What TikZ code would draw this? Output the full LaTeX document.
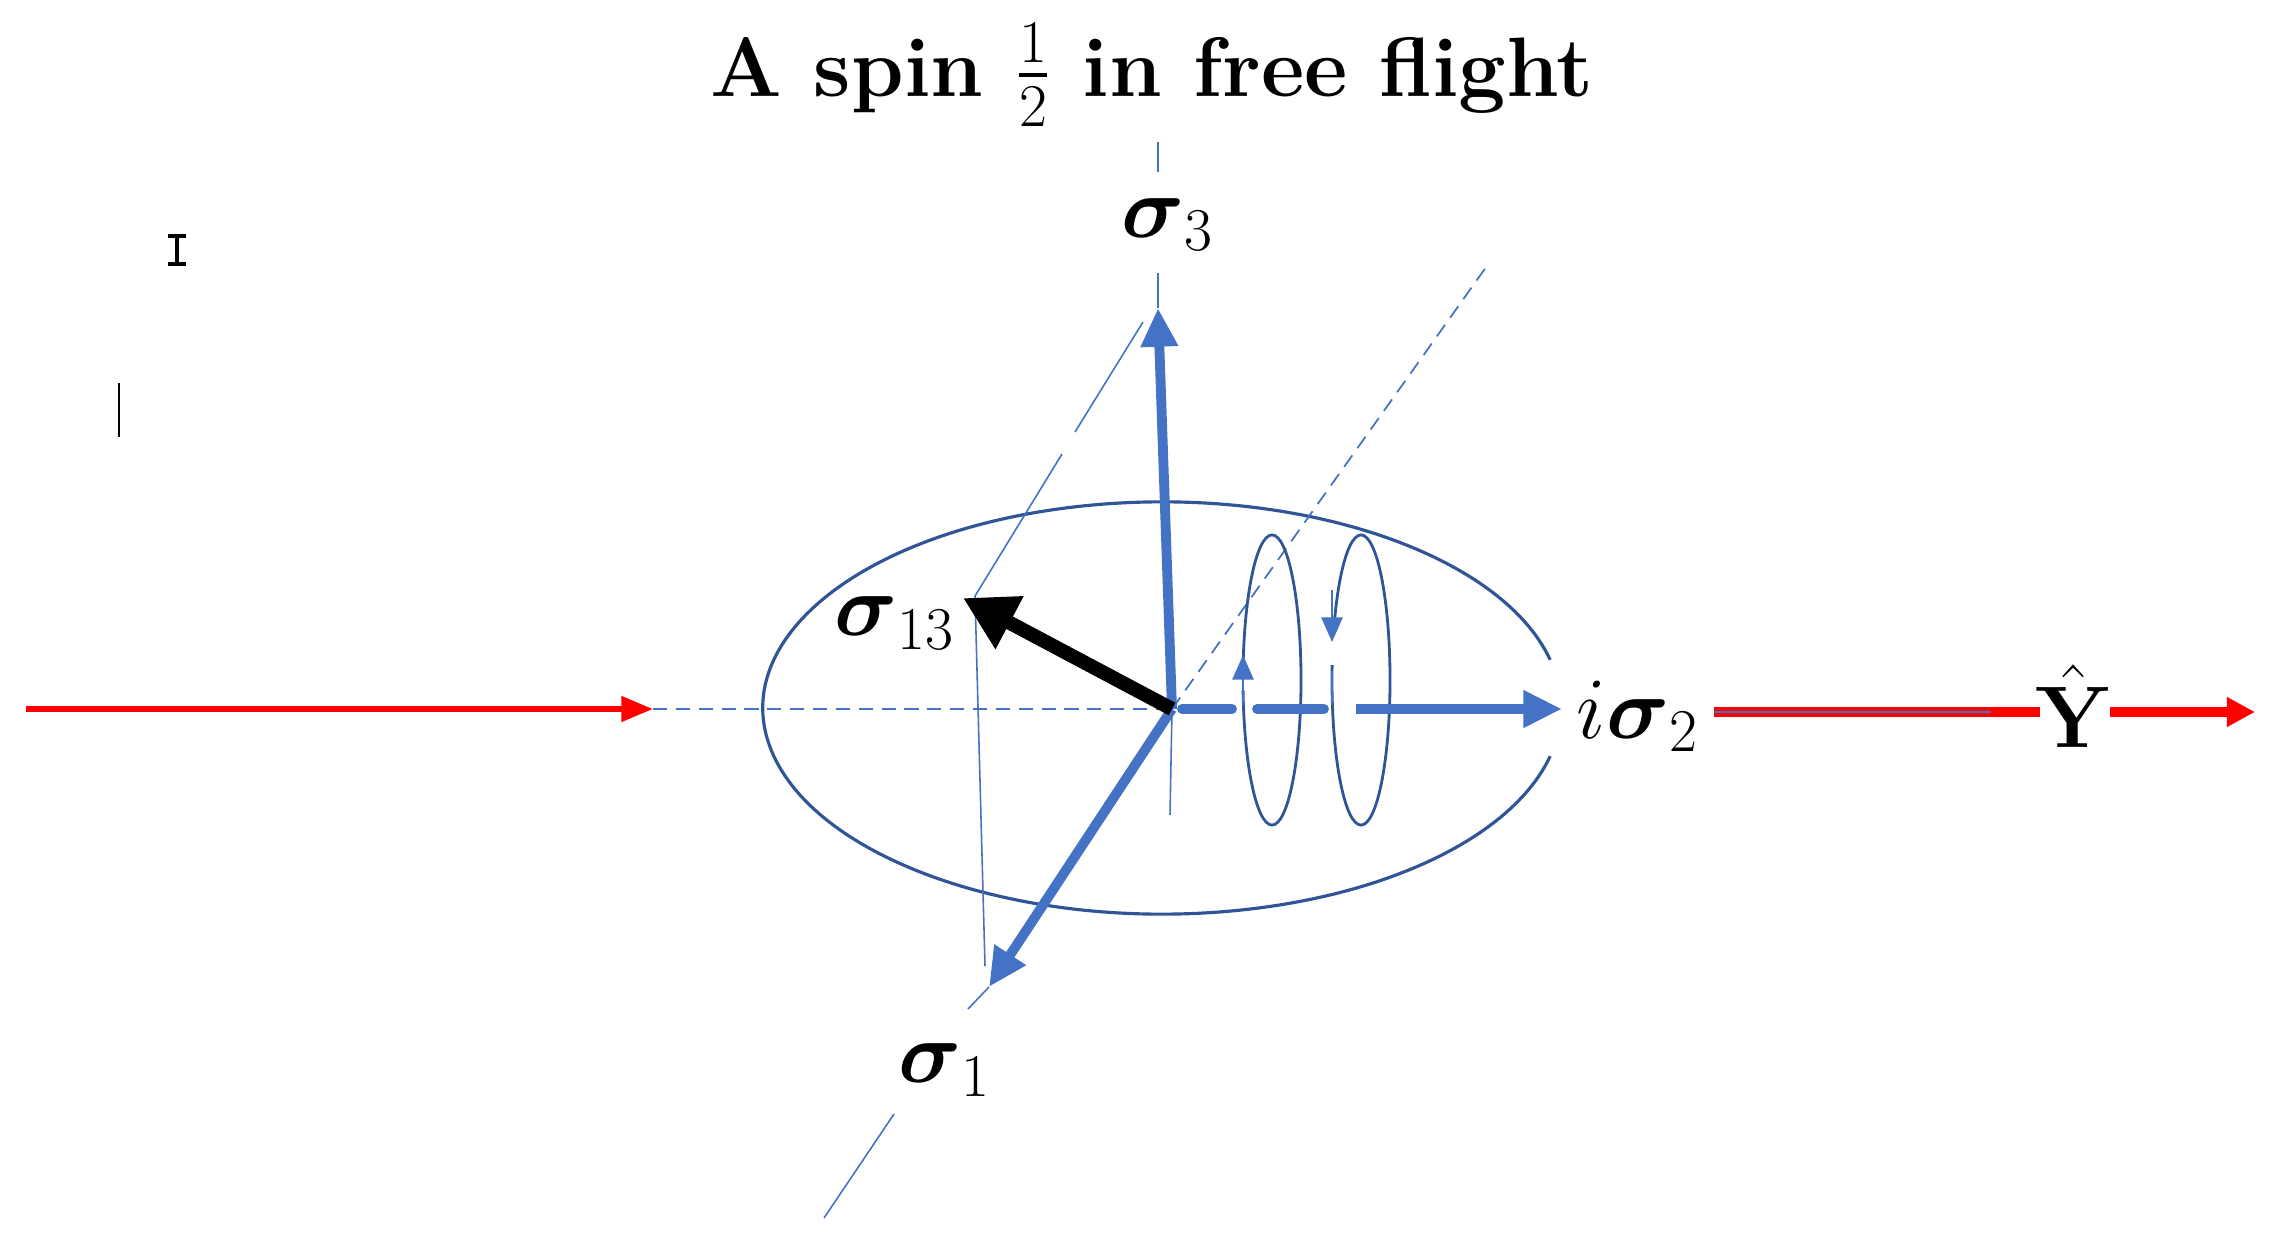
\documentclass[tikz,border=0pt]{standalone}
\usepackage{amsmath}
\usetikzlibrary{arrows.meta}
\definecolor{bl}{HTML}{4472C4}
\definecolor{dbl}{HTML}{2F5597}
\begin{document}
\begin{tikzpicture}[x=0.01cm,y=-0.01cm,
  thickb/.style={bl,line width=2.8pt},
  thn/.style={bl,line width=0.45pt},
  dsh/.style={bl,line width=0.5pt,dash pattern=on 4pt off 2.5pt},
  redl/.style={red,line width=1.6pt},
  lab/.style={font=\fontsize{23}{28}\selectfont,inner sep=1pt},
  tipb/.style={-{Triangle[length=11pt,width=10pt]}}]
\useasboundingbox (0,0) rectangle (2270,1240);
\node[font=\fontsize{24}{28}\selectfont\bfseries] (title) at (1152,75) {A spin $\frac{1}{2}$ in free flight};
% cursor and caret
\draw[line width=1pt] (168,236)--(186,236) (177,236)--(177,264) (168,264)--(186,264);
\draw[line width=0.8pt] (119,383)--(119,437);
\coordinate (O) at (1172,709);
\coordinate (L) at (26,709);
\coordinate (Lend) at (653,709);
\coordinate (T3) at (1158,308);
\coordinate (T1) at (989,987);
\coordinate (T13) at (963,598);
\coordinate (T2) at (1562,709);
\coordinate (C) at (975,596);
% ellipse with gap
\draw[dbl,line width=0.9pt] ([shift={(1162,708)}]13.5:3.99cm and 2.06cm) arc[start angle=13.5,end angle=346.5,x radius=3.99cm,y radius=2.06cm];
% axes
\draw[dsh] (Lend)--(O);
\draw[dsh] (O)--(1489,263);
\draw[thn] (T1)--(968,1009);
\draw[thn] (894,1114)--(824,1218);
\draw[thn] (1158,142)--(1158,172);
\draw[thn] (1158,273)--(T3);
\draw[thn] (O)--(1170,815);
\draw[thn] (C)--(1062,454) (1075,432)--(1143,322);
\draw[thn] (C)--(985,966);
% loops
\draw[dbl,line width=0.8pt] (1272,680) ellipse[x radius=0.29cm,y radius=1.45cm];
\draw[dbl,line width=0.8pt] (1361,680) ellipse[x radius=0.29cm,y radius=1.45cm];
% red arrows
\draw[redl,-{Triangle[length=9pt,width=7pt]}] (L)--(Lend);
% sigma arrows
\draw[thickb,tipb] (O)--(T3);
\draw[thickb,tipb] (O)--(T1);
\draw[thickb,line cap=round] (1182,709)--(1232,709) (1257,709)--(1324,709);
\draw[thickb,tipb] (1356,709)--(T2);
\draw[black,line width=4pt,-{Triangle[length=15pt,width=16pt]}] (O)--(T13);
% small loop arrows
\draw[white,line width=2pt] (1243,660)--(1243,690) (1332,618)--(1332,665);
\draw[bl,line width=0.7pt,-{Triangle[length=7pt,width=6pt]}] (1243,705)--(1243,655);
\draw[bl,line width=0.7pt,-{Triangle[length=7pt,width=6pt]}] (1332,590)--(1332,642);
\draw[bl,line width=0.7pt] (1332,671)--(1332,705);
% labels
\node[lab] (s3) at (1168,225) {$\boldsymbol{\sigma}_3$};
\node[lab] (s13) at (895,623) {$\boldsymbol{\sigma}_{13}$};
\node[lab] (s1) at (945,1070) {$\boldsymbol{\sigma}_1$};
\node[lab] (s2) at (1638,716) {$i\boldsymbol{\sigma}_2$};
\node[lab] (Y) at (2074,706) {$\hat{\mathbf{Y}}$};
\coordinate (R1) at (1714,712);
\coordinate (R2) at (2040,712);
\coordinate (R3) at (2110,712);
\coordinate (R4) at (2255,712);
\draw[red,line width=3pt] (R1)--(R2);
\draw[bl,line width=0.6pt] (R1)--(1991,712);
\draw[red,line width=3pt,-{Triangle[length=8pt,width=8pt]}] (R3)--(R4);
\end{tikzpicture}
\end{document}
